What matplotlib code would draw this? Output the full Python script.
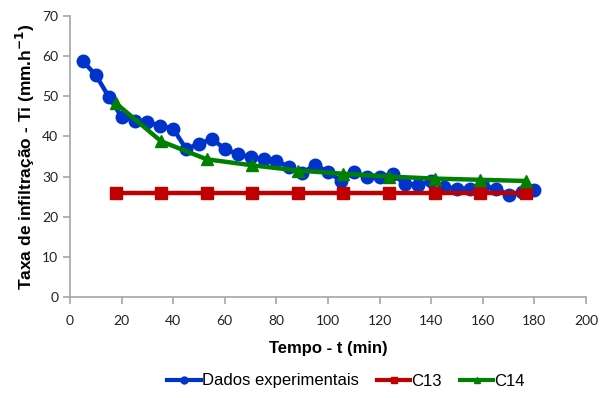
import matplotlib.pyplot as plt
from matplotlib.lines import Line2D

# Dados experimentais (tempo em min, taxa em mm/h)
tempo_exp = [5, 10, 15, 20, 25, 30, 35, 40, 45, 50, 55, 60, 65, 70, 75, 80, 85, 90,
             95, 100, 105, 110, 115, 120, 125, 130, 135, 140, 145, 150, 155, 160,
             165, 170, 175, 180]
taxa_exp = [58.7, 55.3, 49.9, 44.9, 43.9, 43.5, 42.7, 41.9, 36.9, 38.1, 39.4, 36.9,
            35.6, 34.8, 34.4, 33.8, 32.5, 30.8, 33.0, 31.1, 29.0, 31.1, 29.9, 29.9,
            30.6, 28.1, 28.0, 28.8, 27.4, 27.0, 27.0, 27.6, 27.0, 25.5, 26.1, 26.7]

# Modelos
tempo_mod = [17.7, 35.3, 53.0, 70.7, 88.3, 106.0, 123.7, 141.3, 159.0, 176.7]
taxa_c13 = [25.8, 25.8, 25.8, 25.8, 25.8, 25.8, 25.8, 25.8, 25.8, 25.8]
taxa_c14 = [48.3, 38.8, 34.3, 32.8, 31.5, 30.7, 30.0, 29.5, 29.2, 28.9]

azul = '#0033CC'
vermelho = '#C00000'
verde = '#008000'

fig = plt.figure(figsize=(6.03, 3.98), dpi=100)
ax = fig.add_axes([70 / 603, 1 - 297 / 398, 516 / 603, 281 / 398])

ax.plot(tempo_exp, taxa_exp, color=azul, lw=3.2, marker='o', ms=9, zorder=2)
ax.plot(tempo_mod, taxa_c13, color=vermelho, lw=3.2, marker='s', ms=9, zorder=3)
ax.plot(tempo_mod, taxa_c14, color=verde, lw=3.2, marker='^', ms=8.5, zorder=4)

ax.set_xlim(0, 200)
ax.set_ylim(0, 70)
ax.set_xticks(range(0, 201, 20))
ax.set_yticks(range(0, 71, 10))

for s in ['top', 'right']:
    ax.spines[s].set_visible(False)
for s in ['left', 'bottom']:
    ax.spines[s].set_color('#A6A6A6')
    ax.spines[s].set_linewidth(1.2)
ax.tick_params(direction='out', length=5, color='#A6A6A6', width=1.2,
               labelsize=10, labelcolor='#222222')
for lab in ax.get_xticklabels() + ax.get_yticklabels():
    lab.set_family('Lato')
ax.tick_params(axis='x', pad=8)

ax.set_xlabel('Tempo - t (min)', fontsize=12, fontweight='bold', family='Liberation Sans',
              labelpad=10)
ax.set_ylabel('Taxa de infiltração - Ti (mm.h$^{\\mathbf{-1}}$)', fontsize=12.5,
              fontweight='bold', family='Liberation Sans', labelpad=4)

handles = [
    Line2D([], [], color=azul, lw=3, marker='o', ms=5),
    Line2D([], [], color=vermelho, lw=3, marker='s', ms=5),
    Line2D([], [], color=verde, lw=3, marker='^', ms=5),
]
fig.legend(handles, ['Dados experimentais', 'C13', 'C14'], loc='center',
           bbox_to_anchor=(346 / 603, 1 - 381 / 398), ncol=3, frameon=False,
           prop={'family': 'Liberation Sans', 'size': 12}, handlelength=2.0,
           handletextpad=0.05, columnspacing=1.1)

fig.savefig('out.png', dpi=100)
